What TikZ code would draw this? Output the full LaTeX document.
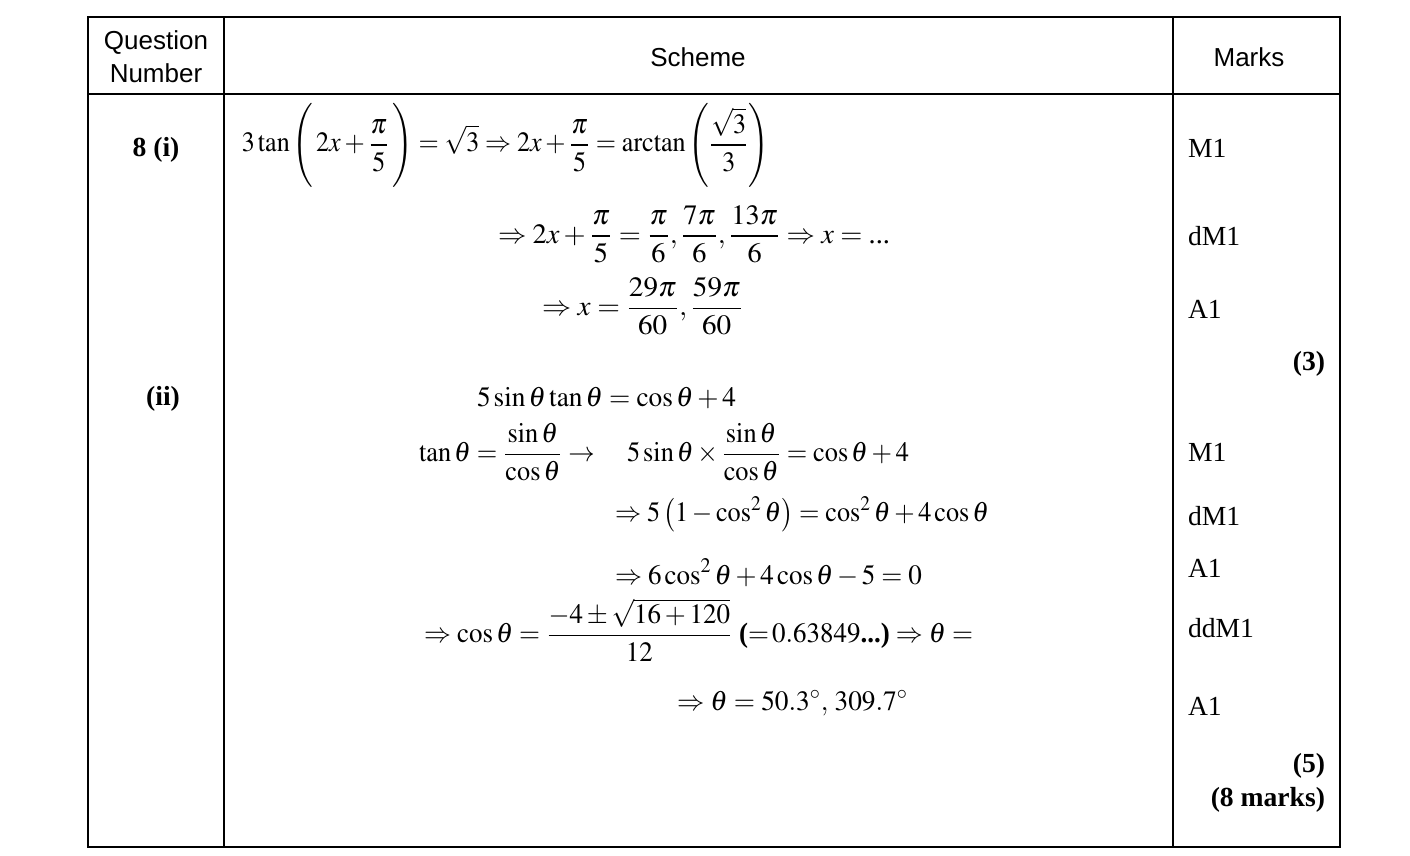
\documentclass[tikz,border=0pt]{standalone}
\usepackage{mathptmx}
\usepackage{graphicx}
\usepackage[no-math]{fontspec}
\setmainfont{Liberation Serif}
\setsansfont{Liberation Sans}
\def\fitw#1#2{\resizebox{#1}{\height}{$\displaystyle #2$}}
\def\tall{\vphantom{\rule[-19pt]{0pt}{44pt}}}

\begin{document}
\begin{tikzpicture}[x=0.5pt, y=-0.5pt, line width=1pt,
	every node/.style={inner sep=0pt},
	hdr/.style={font=\sffamily\fontsize{13}{15}\selectfont},
	qnum/.style={font=\bfseries\fontsize{13.8}{16}\selectfont},
	sol/.style={anchor=west, font=\fontsize{14}{17}\selectfont},
	markname/.style={anchor=west, font=\fontsize{13.8}{16}\selectfont},
	subtotal/.style={anchor=east, font=\bfseries\fontsize{13.8}{16}\selectfont}]
		%%%%% START %%%%%
		
		\useasboundingbox[fill=white] (0, 0) rectangle (1410, 856);
		
		\draw (88, 17) rectangle (1340, 847);
		\draw (224, 17) -- (224, 847);
		\draw (1173, 17) -- (1173, 847);
		\draw (88, 94) -- (1340, 94);
		
		\node[hdr] (qhead1) at (156, 43) {Question};
		\node[hdr] (qhead2) at (156, 73) {Number};
		\node[hdr] (shead) at (698, 57) {Scheme};
		\node[hdr] (mhead) at (1249, 57) {Marks};
		
		\node[qnum] (qi) at (156, 150) {8 (i)};
		\node[qnum] (qii) at (163, 399) {(ii)};
		
		\node[sol] (s1) at (241, 146) {\fitw{263.5pt}{3\tan\left(\tall\, 2x+\frac{\pi}{5}\,\right)=\sqrt{3}\Rightarrow 2x+\frac{\pi}{5}=\arctan\left(\tall\frac{\sqrt{3}}{3}\right)}};
		\node[sol] (s2) at (497, 234) {\fitw{196pt}{\Rightarrow 2x+\frac{\pi}{5}=\frac{\pi}{6},\frac{7\pi}{6},\frac{13\pi}{6}\Rightarrow x=\mbox{...}}};
		\node[sol] (s3) at (541, 306) {\fitw{100.5pt}{\Rightarrow x=\frac{29\pi}{60},\frac{59\pi}{60}}};
		
		\node[sol] (s4) at (476, 398) {\fitw{129.5pt}{5\sin\theta\tan\theta=\cos\theta+4}};
		\node[sol] (s5) at (418, 452) {\fitw{245pt}{\tan\theta=\frac{\sin\theta}{\cos\theta}\rightarrow\quad 5\sin\theta\times\frac{\sin\theta}{\cos\theta}=\cos\theta+4}};
		\node[sol] (s6) at (614, 514) {\fitw{187pt}{\Rightarrow 5\left(1-\cos^2\theta\right)=\cos^2\theta+4\cos\theta}};
		\node[sol] (s7) at (614, 573) {\fitw{153.5pt}{\Rightarrow 6\cos^2\theta+4\cos\theta-5=0}};
		\node[sol] (s8) at (423, 630) {\fitw{274.5pt}{\Rightarrow\cos\theta=\frac{-4\pm\sqrt{16+120}}{12}\ \mbox{\bfseries(}{=}\,0.63849\mbox{\bfseries...)}\Rightarrow\theta=}};
		\node[sol] (s9) at (676, 703) {\fitw{115.5pt}{\Rightarrow\theta=50.3^\circ,\,309.7^\circ}};
		
		\node[markname] (m1) at (1187, 148) {M1};
		\node[markname] (m2) at (1187, 236) {dM1};
		\node[markname] (m3) at (1187, 309) {A1};
		\node[subtotal] (t3) at (1326, 364) {(3)};
		
		\node[markname] (m4) at (1187, 452) {M1};
		\node[markname] (m5) at (1187, 516) {dM1};
		\node[markname] (m6) at (1187, 568) {A1};
		\node[markname] (m7) at (1187, 628) {ddM1};
		\node[markname] (m8) at (1187, 706) {A1};
		\node[subtotal] (t5) at (1326, 766) {(5)};
		\node[subtotal] (t8) at (1326, 800) {(8 marks)};
		
		%%%%% END %%%%%
\end{tikzpicture}
\end{document}
